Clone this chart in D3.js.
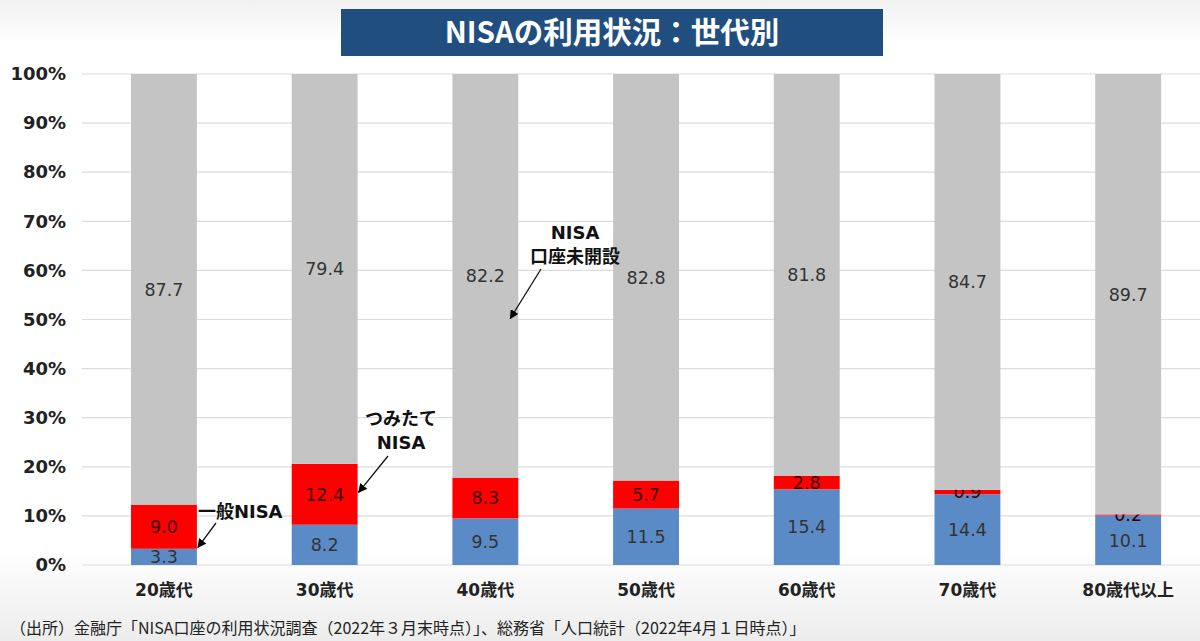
<!DOCTYPE html>
<html>
<head>
<meta charset="utf-8">
<script src="https://cdn.jsdelivr.net/npm/d3@7"></script>
<style>
  body { margin: 0; background: #fff; }
  svg { display: block; }
</style>
</head>
<body>
<div id="chart"></div>
<script>
// data
var ages = ["20歳代", "30歳代", "40歳代", "50歳代", "60歳代", "70歳代", "80歳代以上"];
var ippanNisa = [3.3, 8.2, 9.5, 11.5, 15.4, 14.4, 10.1];
var tsumitateNisa = [9.0, 12.4, 8.3, 5.7, 2.8, 0.9, 0.2];
var noAccount = [87.7, 79.4, 82.2, 82.8, 81.8, 84.7, 89.7];
var yTicks = [0, 10, 20, 30, 40, 50, 60, 70, 80, 90, 100];

var svgWidth = 1200;
var svgHeight = 641;

var jpFont = "'DejaVu Sans', 'Noto Sans CJK JP', sans-serif";

var svg = d3.select("#chart")
  .append("svg")
  .attr("width", svgWidth)
  .attr("height", svgHeight);

// soft grey bands at top and bottom, like the slide
var defs = svg.append("defs");
var grad = defs.append("linearGradient")
  .attr("id", "bg")
  .attr("x1", 0).attr("y1", 0).attr("x2", 0).attr("y2", 1);
grad.append("stop").attr("offset", "0%").attr("stop-color", "#f1f1f1");
grad.append("stop").attr("offset", "7%").attr("stop-color", "#ffffff");
grad.append("stop").attr("offset", "86%").attr("stop-color", "#ffffff");
grad.append("stop").attr("offset", "100%").attr("stop-color", "#ececec");

svg.append("rect")
  .attr("width", svgWidth)
  .attr("height", svgHeight)
  .attr("fill", "url(#bg)");

defs.append("marker")
  .attr("id", "arrow")
  .attr("viewBox", "0 0 10 10")
  .attr("refX", 9)
  .attr("refY", 5)
  .attr("markerWidth", 7)
  .attr("markerHeight", 7)
  .attr("orient", "auto")
  .append("path")
  .attr("d", "M0,0L10,5L0,10z")
  .attr("fill", "#000");

// scales
var x = d3.scaleBand()
  .domain(ages)
  .range([83.6, 1208.5])
  .paddingInner(0.59)
  .paddingOuter(0.295);

var y = d3.scaleLinear()
  .domain([0, 100])
  .range([565, 74]);

// gridlines
svg.append("g")
  .selectAll("line")
  .data(yTicks)
  .enter()
  .append("line")
  .attr("x1", 82)
  .attr("x2", svgWidth)
  .attr("y1", d => y(d))
  .attr("y2", d => y(d))
  .attr("stroke", "#dcdcdc")
  .attr("stroke-width", 1.2);

// y axis labels
var leftAxis = d3.axisLeft(y)
  .tickValues(yTicks)
  .tickFormat(d => d + "%")
  .tickSize(0)
  .tickPadding(0);

var yAxis = svg.append("g")
  .attr("transform", "translate(66,0)")
  .call(leftAxis);
yAxis.select(".domain").remove();
yAxis.selectAll("text")
  .attr("font-family", "'DejaVu Sans', sans-serif")
  .attr("font-size", 18)
  .attr("font-weight", "bold")
  .attr("fill", "#222");

// stacked bars
var rows = ages.map(function(a, i) {
  return { age: a, ippan: ippanNisa[i], tsumitate: tsumitateNisa[i], none: noAccount[i] };
});
var stack = d3.stack().keys(["ippan", "tsumitate", "none"]);
var series = stack(rows);
var colors = { ippan: "#5b8bc6", tsumitate: "#ff0000", none: "#c4c4c4" };

var groups = svg.append("g")
  .selectAll("g")
  .data(series)
  .enter()
  .append("g")
  .attr("fill", d => colors[d.key]);

groups.selectAll("rect")
  .data(d => d)
  .enter()
  .append("rect")
  .attr("x", d => x(d.data.age))
  .attr("width", x.bandwidth())
  .attr("y", d => y(d[1]))
  .attr("height", d => y(d[0]) - y(d[1]));

// value labels centred in each segment
groups.selectAll("text")
  .data(function(s) { return s.map(function(d) { return { d: d, key: s.key }; }); })
  .enter()
  .append("text")
  .attr("x", o => x(o.d.data.age) + x.bandwidth() / 2)
  .attr("y", o => y((o.d[0] + o.d[1]) / 2))
  .attr("dy", "0.36em")
  .attr("text-anchor", "middle")
  .attr("font-family", "'DejaVu Sans', sans-serif")
  .attr("font-size", 17.5)
  .attr("fill", o => o.key === "tsumitate" ? "#3a0000" : "#333")
  .text(o => o.d.data[o.key].toFixed(1));

// x axis labels
var bottomAxis = d3.axisBottom(x).tickSize(0).tickPadding(0);
var xAxis = svg.append("g")
  .attr("transform", "translate(0,584)")
  .call(bottomAxis);
xAxis.select(".domain").remove();
xAxis.selectAll("text")
  .attr("font-family", jpFont)
  .attr("font-size", 17)
  .attr("font-weight", "bold")
  .attr("fill", "#222");

// title
svg.append("rect")
  .attr("x", 341)
  .attr("y", 9)
  .attr("width", 542)
  .attr("height", 47)
  .attr("fill", "#1f4e7f");
svg.append("text")
  .attr("x", 612)
  .attr("y", 33)
  .attr("dy", "0.35em")
  .attr("text-anchor", "middle")
  .attr("font-family", "'Noto Sans CJK JP', sans-serif")
  .attr("font-size", 29.5)
  .attr("font-weight", "bold")
  .attr("fill", "#fff")
  .text("NISAの利用状況：世代別");

// annotations
function note(lines, cx, cy, anchor) {
  var t = svg.append("text")
    .attr("font-family", jpFont)
    .attr("font-size", 18)
    .attr("font-weight", "bold")
    .attr("fill", "#111")
    .attr("text-anchor", anchor);
  lines.forEach(function(s, i) {
    t.append("tspan")
      .attr("x", cx)
      .attr("y", cy + i * 24)
      .attr("dy", "0.35em")
      .text(s);
  });
}
function arrow(x1, y1, x2, y2) {
  svg.append("line")
    .attr("x1", x1).attr("y1", y1)
    .attr("x2", x2).attr("y2", y2)
    .attr("stroke", "#111")
    .attr("stroke-width", 1.3)
    .attr("marker-end", "url(#arrow)");
}

var b20 = x(ages[0]) + x.bandwidth();
var b30 = x(ages[1]) + x.bandwidth();
var b40 = x(ages[2]) + x.bandwidth();

note(["一般NISA"], b20 + 1, 512, "start");
arrow(216, 523, b20 + 1, y(3.6));

note(["つみたて", "NISA"], 401, 419, "middle");
arrow(388, 456, b30 + 1, y(14.8));

note(["NISA", "口座未開設"], 575, 233, "middle");
arrow(541, 269, b40 - 8, y(50.2));

// source
svg.append("text")
  .attr("x", 10)
  .attr("y", 628)
  .attr("dy", "0.35em")
  .attr("font-family", "'Noto Sans CJK JP', sans-serif")
  .attr("font-size", 16)
  .attr("fill", "#222")
  .text("（出所）金融庁「NISA口座の利用状況調査（2022年３月末時点）」、総務省「人口統計（2022年4月１日時点）」");
</script>
</body>
</html>
